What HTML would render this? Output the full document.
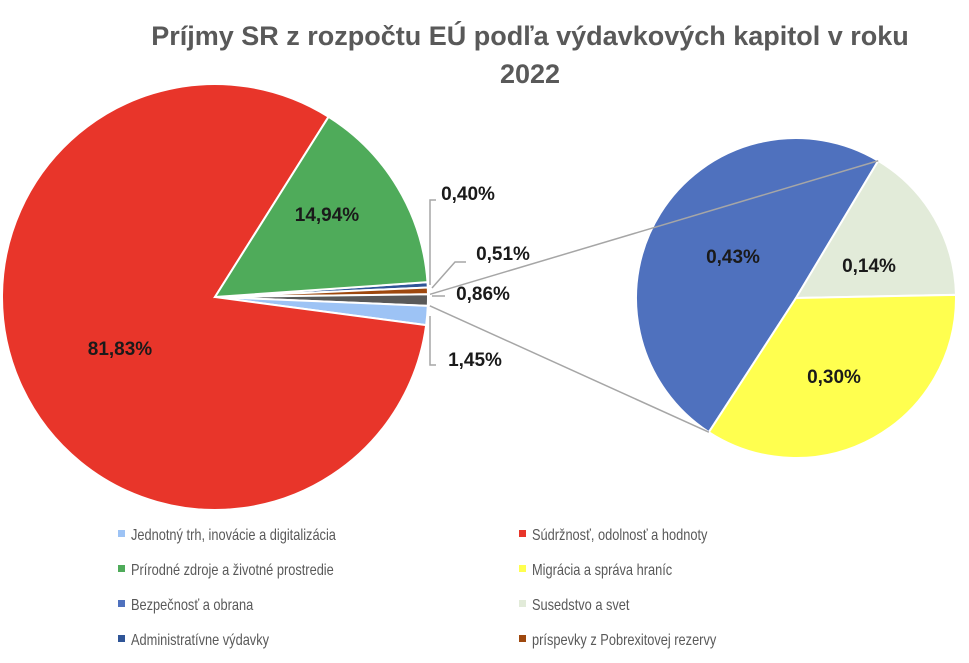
<!DOCTYPE html>
<html><head><meta charset="utf-8"><style>
body{margin:0;background:#fff;}
svg{font-family:"Liberation Sans",sans-serif;display:block}
</style></head><body>
<svg width="969" height="663" viewBox="0 0 969 663">
<text x="530" y="45" text-anchor="middle" font-size="27" font-weight="bold" fill="#595959">Príjmy SR z rozpočtu EÚ podľa výdavkových kapitol v roku</text>
<text x="530" y="83" text-anchor="middle" font-size="27" font-weight="bold" fill="#595959">2022</text>
<g id="main"></g><g id="sub"></g><g id="lines"></g><g id="labels"></g><g id="legend"></g>
</svg>
<script>
const mainNames=["Administratívne výdavky","príspevky z Pobrexitovej rezervy","Ostatné","Jednotný trh, inovácie a digitalizácia","Súdržnosť, odolnosť a hodnoty","Prírodné zdroje a životné prostredie"];
const mainValues=[0.40,0.51,0.86,1.45,81.83,14.94];
const mainColors=["#2f5597","#9e480e","#595959","#9dc3f5","#e8352a","#4fab5a"];
const subNames=["Bezpečnosť a obrana","Susedstvo a svet","Migrácia a správa hraníc"];
const subValues=[0.43,0.14,0.30];
const subColors=["#4f71be","#e2ebd9","#ffff4f"];
const legendNames=["Jednotný trh, inovácie a digitalizácia","Súdržnosť, odolnosť a hodnoty","Prírodné zdroje a životné prostredie","Migrácia a správa hraníc","Bezpečnosť a obrana","Susedstvo a svet","Administratívne výdavky","príspevky z Pobrexitovej rezervy"];
const legendColors=["#9dc3f5","#e8352a","#4fab5a","#ffff4f","#4f71be","#e2ebd9","#2f5597","#9e480e"];
const NS="http://www.w3.org/2000/svg";
function el(t,a,p){const e=document.createElementNS(NS,t);for(const k in a)e.setAttribute(k,a[k]);p.appendChild(e);return e;}
const rad=d=>d*Math.PI/180;
function pt(cx,cy,r,a){return [cx+r*Math.cos(rad(a)),cy+r*Math.sin(rad(a))];}
function arc(cx,cy,r,a0,a1){const p0=pt(cx,cy,r,a0),p1=pt(cx,cy,r,a1);return `M${cx},${cy}L${p0[0]},${p0[1]}A${r},${r} 0 ${a1-a0>180?1:0} 1 ${p1[0]},${p1[1]}Z`;}
function fmt(v){return v.toFixed(2).replace('.',',')+'%';}
const mg=document.getElementById('main');
const mtot=mainValues.reduce((a,b)=>a+b,0);
let a=-4;const mAngles=[];
mainValues.forEach((v,i)=>{const s=v/mtot*360;const p=el('path',{d:arc(215,297,213,a,a+s),fill:mainColors[i],stroke:'#fff','stroke-width':2},mg);


mAngles.push([a,a+s]);a+=s;});
const sg=document.getElementById('sub');
const stot=subValues.reduce((a,b)=>a+b,0);
let b=123;const sAngles=[];
subValues.forEach((v,i)=>{const s=v/stot*360;const p=el('path',{d:arc(796,298,160,b,b+s),fill:subColors[i],stroke:'#fff','stroke-width':2},sg);


sAngles.push([b,b+s]);b+=s;});
const lg=document.getElementById('lines');
const g0=pt(215,297,213,mAngles[2][0]),g1=pt(215,297,213,mAngles[2][1]);
const s0=pt(796,298,160,sAngles[0][0]),s1=pt(796,298,160,sAngles[0][1]);
const c1=el('line',{x1:g0[0]+2,y1:g0[1],x2:s1[0],y2:s1[1],stroke:'#a6a6a6','stroke-width':1.5},lg);


const c2=el('line',{x1:g1[0]+2,y1:g1[1],x2:s0[0],y2:s0[1],stroke:'#a6a6a6','stroke-width':1.5},lg);


const leaders=[[[430,285],[430,200],[436,200]],[[432,288],[455,262],[466,262]],[[432,296],[445,296]],[[430,316],[430,365],[436,365]]];
leaders.forEach((pts,i)=>{const l=el('polyline',{points:pts.map(p=>p.join(',')).join(' '),fill:'none',stroke:'#a6a6a6','stroke-width':1.5},lg);

});
const lb=document.getElementById('labels');
function lab(x,y,t,n){const e=el('text',{x:x,y:y,'font-size':19,'font-weight':'bold',fill:'#1a1a1a','text-anchor':'middle'},lb);e.textContent=t;

}
lab(327,221,fmt(mainValues[5]),'label-green');
lab(120,355,fmt(mainValues[4]),'label-red');
lab(468,200,fmt(mainValues[0]),'label-admin');
lab(503,260,fmt(mainValues[1]),'label-brexit');
lab(483,300,fmt(mainValues[2]),'label-other');
lab(475,366,fmt(mainValues[3]),'label-single-market');
lab(733,263,fmt(subValues[0]),'label-security');
lab(869,272,fmt(subValues[1]),'label-neighbourhood');
lab(834,383,fmt(subValues[2]),'label-migration');
const lgd=document.getElementById('legend');
legendNames.forEach((n,i)=>{const col=i%2,row=Math.floor(i/2);const x=col?519:118,y=540+row*35;
const g=el('g',{},lgd);


el('rect',{x:x,y:y-10,width:7,height:7,fill:legendColors[i]},g);
const t=el('text',{x:x+13,y:y,'font-size':16,fill:'#595959'},g);t.textContent=n;
const w=t.getComputedTextLength();t.setAttribute('textLength',w*0.8);t.setAttribute('lengthAdjust','spacingAndGlyphs');});
</script>
</body></html>
